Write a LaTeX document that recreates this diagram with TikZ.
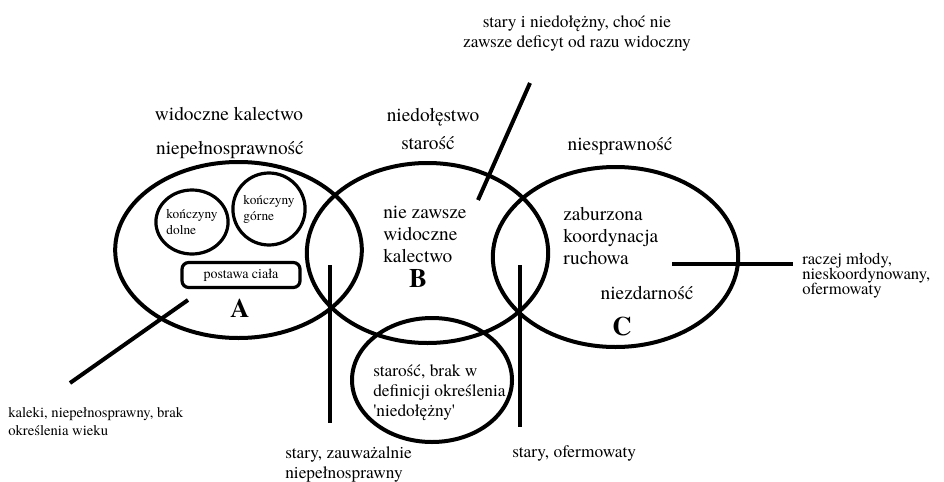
\documentclass[tikz,border=0pt]{standalone}
\usepackage{fontspec}
\setmainfont{TeX Gyre Termes}
\usetikzlibrary{shapes.geometric, positioning}

\begin{document}
\begin{tikzpicture}[x=0.75pt, y=-0.75pt,
    zbior/.style={draw, ellipse, line width=3pt, inner sep=0},
    podzbior/.style={draw, ellipse, line width=2.4pt, inner sep=0, align=left,
        font=\fontsize{10}{12}\selectfont},
    linia/.style={line width=3pt},
    duzy/.style={font=\fontsize{14.5}{16.5}\selectfont, inner sep=0},
    sredni/.style={font=\fontsize{13}{15}\selectfont, inner sep=0},
    maly/.style={font=\fontsize{11}{13.5}\selectfont, inner sep=0},
    litera/.style={font=\fontsize{20}{20}\selectfont\bfseries, inner sep=0}]
    \useasboundingbox (0,0) rectangle (944,481);

    % Zbiory A, B, C
    \node[zbior, minimum width=185pt, minimum height=132pt] (A) at (238.5,250) {};
    \node[zbior, minimum width=181pt, minimum height=135pt] (B) at (427.5,253) {};
    \node[zbior, minimum width=184pt, minimum height=135pt] (C) at (615.5,257) {};
    \node[zbior, minimum width=120pt, minimum height=93pt] (D) at (432,380) {};

    % Wnetrze zbioru A
    \node[podzbior, minimum width=51pt, minimum height=48pt] (dolne) at (192,222) {kończyny\\dolne};
    \node[podzbior, minimum width=51pt, minimum height=54pt] (gorne) at (269,209) {kończyny\\górne};
    \node[draw, line width=2.4pt, rounded corners=5pt, minimum width=88.5pt, minimum height=18.75pt,
        font=\fontsize{10.5}{12}\selectfont, inner sep=0] (postawa) at (241,275) {postawa ciała};

    % Litery
    \node[litera] (literaA) at (240,308) {A};
    \node[litera] (literaB) at (418,278) {B};
    \node[litera] (literaC) at (622,327) {C};

    % Nazwy nad zbiorami
    \node[duzy, anchor=base] (widoczne) at (229,121) {widoczne kalectwo};
    \node[duzy, anchor=base] (niepelno) at (230,154) {niepełnosprawność};
    \node[duzy, anchor=base] (niedol) at (433,122) {niedołęstwo};
    \node[duzy, anchor=base] (starosc) at (428,149) {starość};
    \node[duzy, anchor=base] (niespr) at (620,151) {niesprawność};

    % Opisy w zbiorach
    \node[duzy, align=left, anchor=west] (nieZawsze) at (383,234) {nie zawsze\\widoczne\\kalectwo};
    \node[duzy, align=left, anchor=west] (zaburzona) at (563,236) {zaburzona\\koordynacja\\ruchowa};
    \node[duzy, anchor=base] (niezdarnosc) at (647,299) {niezdarność};
    \node[sredni, align=left, anchor=west] (brakDef) at (373,393)
        {starość, brak w\\definicji określenia\\\textquotesingle niedołężny\textquotesingle};

    % Opisy na zewnatrz
    \node[sredni, align=center] (stNiedol) at (577,33) {stary i niedołężny, choć nie\\zawsze deficyt od razu widoczny};
    \node[maly, align=left, anchor=west] (kaleki) at (8,422) {kaleki, niepełnosprawny, brak\\określenia wieku};
    \node[sredni, align=left, anchor=west] (stZauw) at (285,464) {stary, zauważalnie\\niepełnosprawny};
    \node[sredni, anchor=base west] (stOferm) at (512,457) {stary, ofermowaty};
    \node[font=\fontsize{12.5}{11.3}\selectfont, inner sep=0, align=left, anchor=west] (mlody) at (802,276)
        {raczej młody,\\nieskoordynowany,\\ofermowaty};

    % Linie odniesienia
    \coordinate (kalekiG) at (188,300);
    \coordinate (kalekiD) at (70,383);
    \coordinate (zauwG) at (330,265);
    \coordinate (zauwD) at (330,423);
    \coordinate (ofermG) at (520,265);
    \coordinate (ofermD) at (520,427);
    \coordinate (niedolG) at (530,83);
    \coordinate (niedolD) at (478,200);
    \coordinate (mlodyL) at (672,264);
    \coordinate (mlodyP) at (793,264);
    \draw[linia] (kalekiG) -- (kalekiD);
    \draw[linia] (zauwG) -- (zauwD);
    \draw[linia] (ofermG) -- (ofermD);
    \draw[linia] (niedolG) -- (niedolD);
    \draw[linia] (mlodyL) -- (mlodyP);
\end{tikzpicture}
\end{document}
